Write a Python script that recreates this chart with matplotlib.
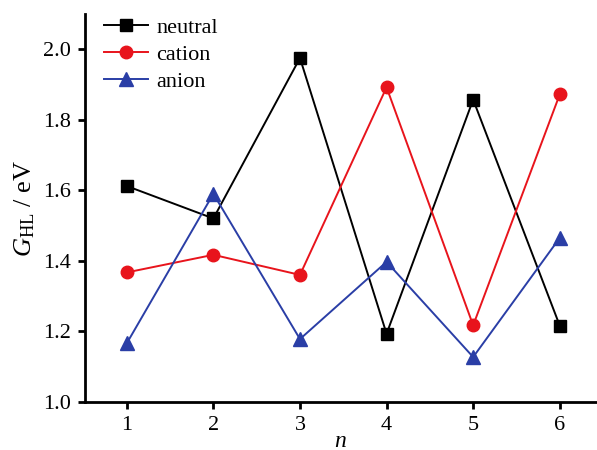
import numpy as np
import matplotlib
matplotlib.use("Agg")
import matplotlib.pyplot as plt

plt.rcParams['font.family'] = ['Liberation Serif', 'DejaVu Serif']
plt.rcParams['mathtext.fontset'] = 'custom'
plt.rcParams['mathtext.rm'] = 'Liberation Serif'
plt.rcParams['mathtext.it'] = 'Liberation Serif:italic'

n = [1, 2, 3, 4, 5, 6]
neutral = [1.612, 1.52, 1.975, 1.193, 1.857, 1.216]
cation = [1.367, 1.417, 1.36, 1.892, 1.217, 1.872]
anion = [1.166, 1.59, 1.178, 1.397, 1.127, 1.465]

fig = plt.figure(figsize=(5.97, 4.5), dpi=100)
ax = fig.add_axes([0.142, 0.107, 0.858, 0.862])

ax.plot(n, neutral, color='black', marker='s', markersize=8, lw=1.4, label='neutral')
ax.plot(n, cation, color='#e8141c', marker='o', markersize=9, lw=1.4, label='cation')
ax.plot(n, anion, color='#2a3ea6', marker='^', markersize=10, lw=1.4, label='anion')

ax.set_xlim(0.515, 6.43)
ax.set_ylim(1.0, 2.1)
ax.set_xticks(n)
ax.set_yticks([1.0, 1.2, 1.4, 1.6, 1.8, 2.0])
ax.yaxis.set_major_formatter(matplotlib.ticker.FormatStrFormatter('%.1f'))

for s in ['top', 'right']:
    ax.spines[s].set_visible(False)
for s in ['left', 'bottom']:
    ax.spines[s].set_linewidth(2)
ax.tick_params(direction='out', length=5, width=2, labelsize=16, pad=5)

ax.set_xlabel(r'$n$', fontsize=17, labelpad=-3)
ax.set_ylabel(r'$G_{\mathrm{HL}}$ / eV', fontsize=19, labelpad=4)

ax.legend(loc='upper left', bbox_to_anchor=(0.02, 1.015), frameon=False, fontsize=16,
          handlelength=2.0, handletextpad=0.35, labelspacing=0.3, borderaxespad=0)

fig.savefig('out.png', dpi=100)
